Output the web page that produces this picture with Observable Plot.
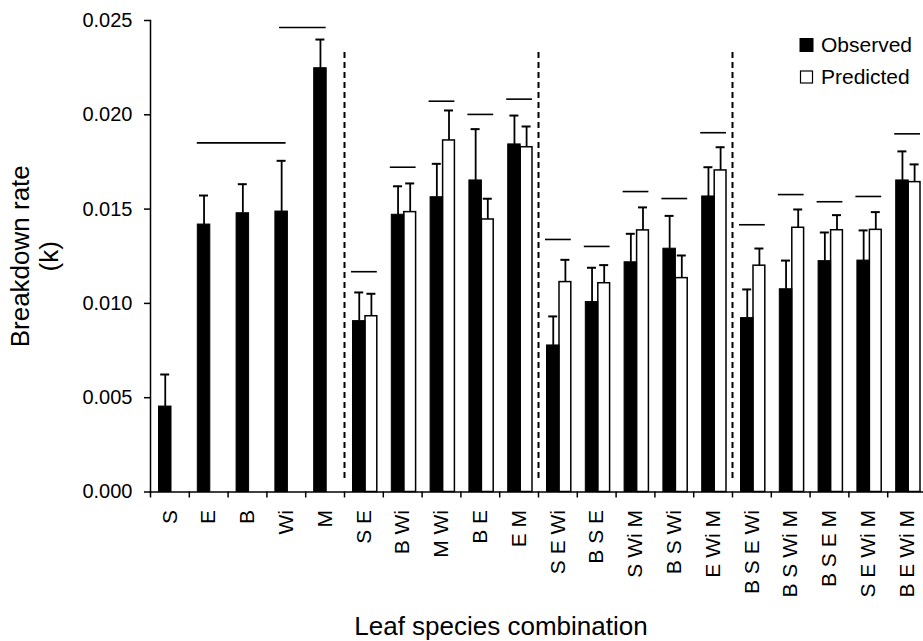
<!DOCTYPE html>
<html>
<head>
<meta charset="utf-8">
<script src="https://cdn.jsdelivr.net/npm/d3@7"></script>
<script src="https://cdn.jsdelivr.net/npm/@observablehq/plot@0.6"></script>
<style>
  html, body { margin: 0; padding: 0; background: white; overflow: hidden; }
  #chart { width: 923px; height: 641px; overflow: hidden; }
</style>
</head>
<body>
<div id="chart"></div>
<script>
// ---- data ----
const categories = ["S", "E", "B", "Wi", "M", "S E", "B Wi", "M Wi", "B E", "E M",
  "S E Wi", "B S E", "S Wi M", "B S Wi", "E Wi M",
  "B S E Wi", "B S Wi M", "B S E M", "S E Wi M", "B E Wi M"];

const observed = [0.00453, 0.01418, 0.01478, 0.01487, 0.02247,
  0.00906, 0.01470, 0.01563, 0.01652, 0.01843,
  0.00777, 0.01007, 0.01218, 0.01290, 0.01567,
  0.00922, 0.01075, 0.01224, 0.01227, 0.01652];
const observedErr = [0.00170, 0.00154, 0.00154, 0.00269, 0.00152,
  0.00152, 0.00151, 0.00177, 0.00272, 0.00153,
  0.00154, 0.00182, 0.00151, 0.00174, 0.00155,
  0.00152, 0.00152, 0.00152, 0.00160, 0.00154];

const predicted = [null, null, null, null, null,
  0.00932, 0.01484, 0.01864, 0.01445, 0.01828,
  0.01113, 0.01107, 0.01387, 0.01134, 0.01705,
  0.01200, 0.01401, 0.01388, 0.01390, 0.01643];
const predictedErr = [null, null, null, null, null,
  0.00119, 0.00152, 0.00159, 0.00110, 0.00110,
  0.00118, 0.00096, 0.00122, 0.00120, 0.00123,
  0.00091, 0.00097, 0.00080, 0.00094, 0.00094];

// horizontal lines above each combination
const pairLine = [null, null, null, null, null,
  0.01168, 0.01722, 0.02072, 0.02002, 0.02083,
  0.01339, 0.01302, 0.01593, 0.01556, 0.01905,
  0.01417, 0.01577, 0.01539, 0.01567, 0.01899];
const singlesLineA = [{from: "E", to: "Wi", y: 0.01851}];
const singlesLineB = [{from: "Wi", to: "M", y: 0.02463}];

// dashed separators (left edge of these categories)
const dividers = ["S E", "S E Wi", "B S E Wi"];

const yTicks = [0.000, 0.005, 0.010, 0.015, 0.020, 0.025];
const yTitle = "Breakdown rate\n(k)";
const xTitle = "Leaf species combination";
const seriesNames = ["Observed", "Predicted"];

// ---- build table ----
const rows = categories.map((c, i) => ({
  c, obs: observed[i], obsErr: observedErr[i],
  pred: predicted[i], predErr: predictedErr[i], line: pairLine[i]
}));
const pairRows = rows.filter(d => d.pred != null);

const W = 926, H = 641, ML = 150, MR = 0, MT = 20, MB = 149.5;
const band = (W - ML - MR) / categories.length;
const half = band / 2;

const font = "'Liberation Sans', Arial, Helvetica, sans-serif";

const chart = Plot.plot({
  width: W,
  height: H,
  marginLeft: ML,
  marginRight: MR,
  marginTop: MT,
  marginBottom: MB,
  style: {fontFamily: font, fontSize: "20px", color: "black", background: "white", maxWidth: "none", overflow: "visible"},
  x: {domain: categories, padding: 0, round: false, label: null, axis: null},
  y: {domain: [0, 0.025], label: null, axis: null},
  marks: [
    // dashed separators
    Plot.ruleX(dividers, {x: d => d, dx: -half, insetTop: 32, insetBottom: 11,
      stroke: "black", strokeWidth: 2, strokeDasharray: "6,4"}),
    // predicted bars (white)
    Plot.barY(pairRows, {x: "c", y: "pred", fill: "white", stroke: "black", strokeWidth: 1.5,
      insetLeft: 21, insetRight: 6}),
    // observed bars (black)
    Plot.barY(rows, {x: "c", y: "obs", fill: "black", stroke: "black", strokeWidth: 1,
      insetLeft: 8.5, insetRight: 17.8}),
    // error bars observed
    Plot.ruleX(rows, {x: "c", y1: "obs", y2: d => d.obs + d.obsErr, dx: -4.65,
      stroke: "black", strokeWidth: 1.8}),
    Plot.tickY(rows, {x: "c", y: d => d.obs + d.obsErr, insetLeft: 10.2, insetRight: 19.6,
      stroke: "black", strokeWidth: 2}),
    // error bars predicted
    Plot.ruleX(pairRows, {x: "c", y1: "pred", y2: d => d.pred + d.predErr, dx: 7.5,
      stroke: "black", strokeWidth: 1.8}),
    Plot.tickY(pairRows, {x: "c", y: d => d.pred + d.predErr, insetLeft: 22.4, insetRight: 7.4,
      stroke: "black", strokeWidth: 2}),
    // lines above combinations
    Plot.tickY(pairRows, {x: "c", y: "line", insetLeft: 7, insetRight: 6,
      stroke: "black", strokeWidth: 1.6}),
    Plot.ruleY(singlesLineA, {x1: "from", x2: "to", y: "y", insetLeft: 8, insetRight: 19.6,
      stroke: "black", strokeWidth: 1.6}),
    Plot.ruleY(singlesLineB, {x1: "from", x2: "to", y: "y", insetLeft: 12.6, insetRight: 18.3,
      stroke: "black", strokeWidth: 1.6}),
    // axis lines
    Plot.frame({anchor: "left", stroke: "black", strokeWidth: 1.5}),
    Plot.frame({anchor: "bottom", stroke: "black", strokeWidth: 1.5}),
    // y axis
    Plot.axisY({ticks: yTicks, tickFormat: d3.format(".3f"), tickSize: 6, tickPadding: 12,
      fontSize: 20, label: null, strokeWidth: 1.5}),
    // x axis: ticks at category boundaries
    Plot.axisX({tickSize: 6, dx: -half, tickFormat: () => "", label: null, strokeWidth: 1.5}),
    // x axis labels, rotated
    Plot.axisX({tickSize: 0, tickPadding: 18, tickRotate: -90, fontSize: 21, label: null}),
    // titles
    Plot.text([yTitle], {text: d => d, frameAnchor: "left", textAnchor: "middle", lineAnchor: "middle",
      rotate: -90, dx: -116.5, fontSize: 26, lineHeight: 1.12, fill: "black"}),
    Plot.text([xTitle], {text: d => d, frameAnchor: "bottom", textAnchor: "middle", lineAnchor: "middle",
      dy: 135, dx: -37.5, fontSize: 26, fill: "black"})
  ]
});

// legend inside the plot area (top right)
const svg = d3.select(chart);
const lg = svg.append("g").attr("font-family", font).attr("font-size", 21)
  .attr("fill", "black").attr("text-anchor", "start");
lg.append("rect").attr("x", 800).attr("y", 38.5).attr("width", 13).attr("height", 13)
  .attr("fill", "black").attr("stroke", "black");
lg.append("text").attr("x", 821).attr("y", 51.7).attr("text-anchor", "start").text(seriesNames[0]);
lg.append("rect").attr("x", 800.5).attr("y", 71).attr("width", 12).attr("height", 12)
  .attr("fill", "white").attr("stroke", "black").attr("stroke-width", 1.2);
lg.append("text").attr("x", 821).attr("y", 84).attr("text-anchor", "start").text(seriesNames[1]);

document.getElementById("chart").appendChild(chart);
</script>
</body>
</html>
